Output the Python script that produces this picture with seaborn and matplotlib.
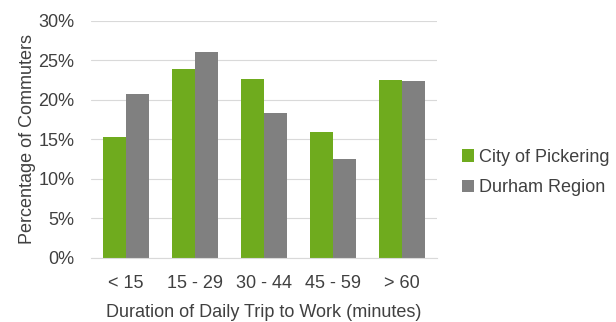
import pandas as pd
import matplotlib.pyplot as plt
import seaborn as sns

# Commute duration shares (percent of commuters)
durations = ["< 15", "15 - 29", "30 - 44", "45 - 59", "> 60"]
pickering = [15.3, 23.9, 22.6, 15.9, 22.5]
durham = [20.7, 26.1, 18.3, 12.5, 22.4]
regions = ["City of Pickering", "Durham Region"]
colors = ["#6FAB1E", "#808080"]

df = pd.DataFrame({
    "Duration": durations * 2,
    "Share": pickering + durham,
    "Region": [regions[0]] * len(durations) + [regions[1]] * len(durations),
})

sns.set_style("white")
plt.rcParams["font.family"] = ["Liberation Sans", "DejaVu Sans"]
text_color = "#404040"
fs = 13

fig = plt.figure(figsize=(6.16, 3.22), dpi=100)
ax = fig.add_axes([0.148, 0.199, 0.561, 0.736])

sns.barplot(data=df, x="Duration", y="Share", hue="Region", order=durations,
            hue_order=regions, palette=colors, width=0.67, gap=0,
            saturation=1, linewidth=0, ax=ax)

ax.set_ylim(0, 30)
ax.set_yticks(range(0, 31, 5))
ax.set_yticklabels([f"{v}%" for v in range(0, 31, 5)])
ax.yaxis.grid(True, color="#D9D9D9", linewidth=0.8)
ax.set_axisbelow(True)
for side in ["top", "right", "left"]:
    ax.spines[side].set_visible(False)
ax.spines["bottom"].set_color("#D9D9D9")
ax.tick_params(axis="both", length=0, labelsize=fs, colors=text_color)
ax.tick_params(axis="x", pad=12)
ax.tick_params(axis="y", pad=12)

ax.set_xlabel("Duration of Daily Trip to Work (minutes)", fontsize=fs,
              color=text_color, labelpad=9)
ax.set_ylabel("Percentage of Commuters", fontsize=fs, color=text_color,
              labelpad=2)

ax.legend(loc="center left", bbox_to_anchor=(1.072, 0.36), frameon=False,
          borderaxespad=0, borderpad=0,
          fontsize=fs, handlelength=0.7, handleheight=0.7,
          handletextpad=0.25, labelspacing=0.75, labelcolor=text_color)

plt.savefig("out.png", dpi=100)
